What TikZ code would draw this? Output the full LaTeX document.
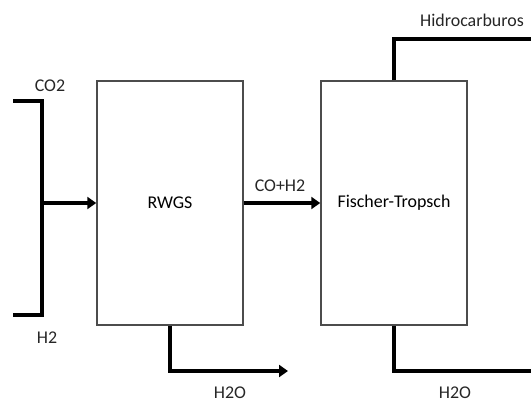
\documentclass[tikz,border=0pt]{standalone}
\usepackage{fontspec}
\setmainfont{Carlito}
\usetikzlibrary{arrows.meta, positioning, calc}

\begin{document}
\begin{tikzpicture}[
  x=1bp, y=-1bp,
  unit/.style={rectangle, draw=black!70, line width=1.5bp, minimum width=146bp, minimum height=244bp, font=\fontsize{18}{21}\selectfont},
  flow/.style={line width=3.2bp, color=black},
  arr/.style={flow, -{Triangle[length=9bp, width=12bp]}},
  lbl/.style={font=\fontsize{18}{21}\selectfont, inner sep=0pt, color=black!85}
]
\useasboundingbox (0,0) rectangle (531,402);

\node[unit] (rwgs) at (170,203) {RWGS};
\node[unit] (ft) at (394,203) {Fischer-Tropsch};

\coordinate (co2in) at (13,101);
\coordinate (h2in) at (13,315);
\coordinate (mix) at (42,203);
\coordinate (wout1) at (288,371);
\coordinate (wout2) at (531,371);
\coordinate (hcout) at (531,39);

\node[lbl] (co2) at (50,86) {CO2};
\node[lbl] (h2) at (47,338) {H2};
\node[lbl] (syngas) at (280,186) {CO+H2};
\node[lbl] (h2oa) at (230,393) {H2O};
\node[lbl] (h2ob) at (455,393) {H2O};
\node[lbl] (hc) at (472,20) {Hidrocarburos};

\draw[flow] (co2in) -| (mix) |- (h2in);
\draw[arr] (mix) -- (rwgs.west);
\draw[arr] (rwgs.east) -- (ft.west);
\draw[arr] (rwgs.south) |- (wout1);
\draw[flow] (ft.north) |- (hcout);
\draw[flow] (ft.south) |- (wout2);

\end{tikzpicture}
\end{document}
